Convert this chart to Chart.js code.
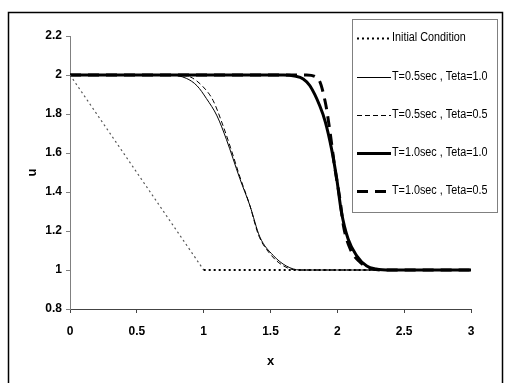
<!DOCTYPE html>
<html>
<head>
<meta charset="utf-8">
<script src="https://cdn.jsdelivr.net/npm/chart.js@4/dist/chart.umd.min.js"></script>
<style>
  body { margin: 0; background: #fff; }
  #wrap { width: 507px; height: 383px; }
</style>
</head>
<body>
<div id="wrap"><canvas id="myChart"></canvas></div>
<script>
// values
var seriesNames = ['Initial Condition', 'T=0.5sec , Teta=1.0', 'T=0.5sec , Teta=0.5', 'T=1.0sec , Teta=1.0', 'T=1.0sec , Teta=0.5'];

var initX = [0, 1, 3];
var initU = [2, 1, 1];

var t05a1X = [0, 0.75, 0.87, 0.95, 1.02, 1.1, 1.17, 1.27, 1.346, 1.42, 1.52, 1.62, 1.72, 3];
var t05a1U = [2, 2, 1.983, 1.945, 1.88, 1.79, 1.67, 1.47, 1.33, 1.17, 1.075, 1.02, 1.0, 1.0];

var t05a05X = [0, 0.8, 0.9, 0.995, 1.07, 1.145, 1.2, 1.27, 1.346, 1.41, 1.5, 1.6, 1.7, 3];
var t05a05U = [2, 2, 1.99, 1.94, 1.87, 1.74, 1.63, 1.48, 1.33, 1.18, 1.08, 1.02, 1.0, 1.0];

var t10a1X = [0, 1.6, 1.68, 1.745, 1.795, 1.87, 1.91, 1.957, 1.995, 2.03, 2.08, 2.145, 2.22, 2.29, 2.4, 3];
var t10a1U = [2, 2, 1.995, 1.98, 1.945, 1.84, 1.76, 1.62, 1.47, 1.30, 1.16, 1.073, 1.02, 1.005, 1.0, 1.0];

var t10a05X = [0, 1.77, 1.857, 1.91, 1.945, 1.98, 2.02, 2.045, 2.095, 2.17, 2.24, 2.35, 3];
var t10a05U = [2, 2, 1.98, 1.86, 1.71, 1.53, 1.36, 1.23, 1.11, 1.04, 1.01, 1.0, 1.0];

var xTickValues = [0, 0.5, 1, 1.5, 2, 2.5, 3];
var xTickLabels = ['0', '0.5', '1', '1.5', '2', '2.5', '3'];
var yTickValues = [0.8, 1, 1.2, 1.4, 1.6, 1.8, 2, 2.2];
var yTickLabels = ['0.8', '1', '1.2', '1.4', '1.6', '1.8', '2', '2.2'];

function pts(xs, us) {
  return xs.map(function (x, i) { return { x: x, y: us[i] }; });
}

var styles = [
  {
    borderWidth: 1.5, borderDash: [2, 3], tension: 0,
    // the sloped part prints lighter than the flat part
    segment: {
      borderColor: function (s) { return s.p0.parsed.y > s.p1.parsed.y ? '#555' : '#000'; },
      borderWidth: function (s) { return s.p0.parsed.y > s.p1.parsed.y ? 1.2 : 2; }
    }
  },
  { borderWidth: 1, borderDash: [], cubicInterpolationMode: 'monotone' },
  { borderWidth: 1, borderDash: [5, 3], cubicInterpolationMode: 'monotone' },
  { borderWidth: 3, borderDash: [], cubicInterpolationMode: 'monotone' },
  { borderWidth: 3, borderDash: [11, 7], cubicInterpolationMode: 'monotone' }
];
var allData = [pts(initX, initU), pts(t05a1X, t05a1U), pts(t05a05X, t05a05U), pts(t10a1X, t10a1U), pts(t10a05X, t10a05U)];

var datasets = seriesNames.map(function (name, i) {
  return Object.assign({
    label: name,
    data: allData[i],
    borderColor: '#000',
    backgroundColor: '#000',
    pointRadius: 0,
    showLine: true,
    fill: false
  }, styles[i]);
});

// outer frame
var framePlugin = {
  id: 'frame',
  beforeDraw: function (chart) {
    var c = chart.ctx;
    c.save();
    c.fillStyle = '#fff';
    c.fillRect(0, 0, chart.width, chart.height);
    c.strokeStyle = '#000';
    c.lineWidth = 1.5;
    c.strokeRect(8.5, 12.5, 494, 390);
    c.restore();
  }
};

// legend box drawn over the plot
var legendPlugin = {
  id: 'boxLegend',
  afterDraw: function (chart) {
    var c = chart.ctx;
    var rows = [38, 77, 115, 153, 191];
    c.save();
    c.fillStyle = '#fff';
    c.fillRect(352, 19, 145, 193);
    c.strokeStyle = '#808080';
    c.lineWidth = 1;
    c.strokeRect(352.5, 19.5, 145, 193);
    c.font = '12px "Liberation Sans", Arial, sans-serif';
    c.textBaseline = 'middle';
    chart.data.datasets.forEach(function (ds, i) {
      var y = rows[i] + 0.5;
      c.strokeStyle = '#000';
      c.lineWidth = i === 0 ? 2 : ds.borderWidth;
      c.setLineDash(ds.borderDash);
      c.beginPath();
      c.moveTo(357, y);
      c.lineTo(391, y);
      c.stroke();
      c.setLineDash([]);
      c.fillStyle = '#000';
      // narrow text, like the original
      var w = c.measureText(ds.label).width;
      c.fillText(ds.label, 392, rows[i], w * 0.9);
    });
    c.restore();
  }
};

var tickFont = { family: '"Liberation Sans", Arial, sans-serif', size: 12, weight: 'bold' };
var titleFont = { family: '"Liberation Sans", Arial, sans-serif', size: 13, weight: 'bold' };

const ctx = document.getElementById('myChart');

new Chart(ctx, {
  type: 'scatter',
  data: { datasets: datasets },
  options: {
    responsive: true,
    maintainAspectRatio: false,
    animation: false,
    layout: { padding: { left: 0, top: 36, right: 36, bottom: 0 } },
    plugins: { legend: { display: false }, tooltip: { enabled: false } },
    scales: {
      x: {
        type: 'linear',
        min: 0,
        max: 3,
        afterFit: function (s) { s.height = 74; },
        afterBuildTicks: function (s) { s.ticks = xTickValues.map(function (v) { return { value: v }; }); },
        grid: { drawOnChartArea: false, tickLength: 4, color: '#444' },
        border: { color: '#444', width: 1 },
        ticks: {
          color: '#000',
          font: tickFont,
          padding: 11,
          maxRotation: 0,
          callback: function (v, i) { return xTickLabels[i]; }
        },
        title: { display: true, text: 'x', color: '#000', font: titleFont, padding: { top: 0, bottom: 14 } }
      },
      y: {
        type: 'linear',
        min: 0.8,
        max: 2.2,
        afterFit: function (s) { s.width = 70; },
        afterBuildTicks: function (s) { s.ticks = yTickValues.map(function (v) { return { value: v }; }); },
        grid: { drawOnChartArea: false, tickLength: 4, color: '#808080' },
        border: { color: '#808080', width: 1 },
        ticks: {
          color: '#000',
          font: tickFont,
          padding: 4,
          callback: function (v, i) { return yTickLabels[i]; }
        },
        title: { display: true, text: 'u', color: '#000', font: titleFont, padding: { top: 25, bottom: 0 } }
      }
    }
  },
  plugins: [framePlugin, legendPlugin]
});
</script>
</body>
</html>
